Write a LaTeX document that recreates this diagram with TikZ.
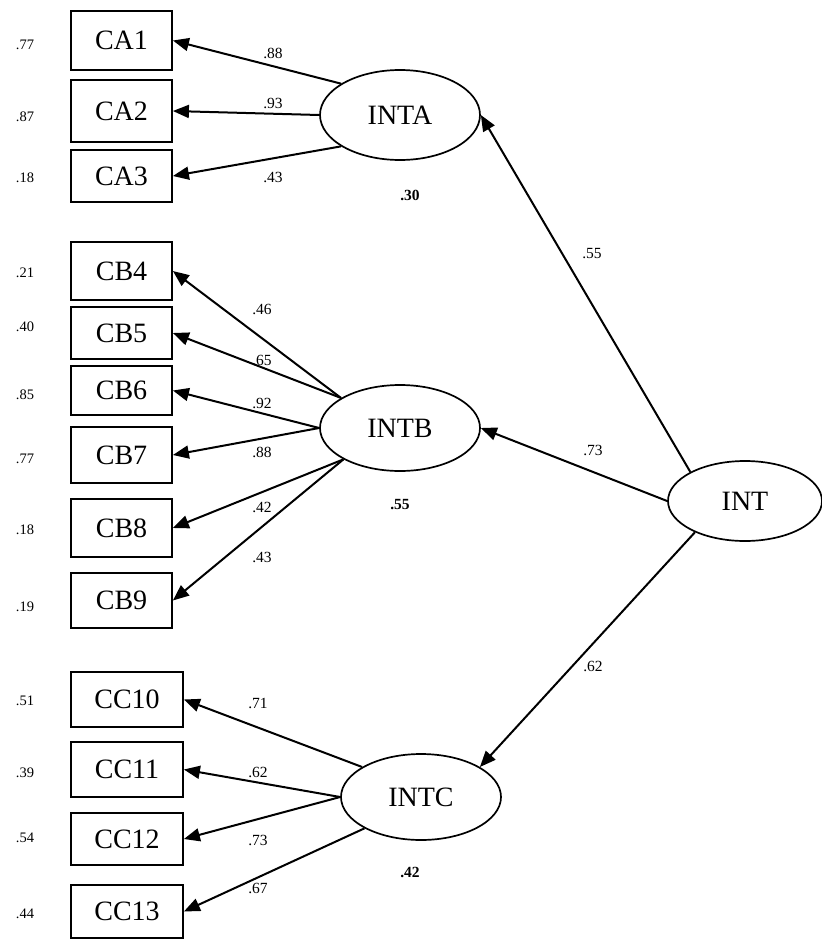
\documentclass[tikz,border=0pt]{standalone}
\usepackage{fontspec}
\setmainfont{Liberation Serif}
\usetikzlibrary{shapes.geometric,arrows.meta}

\begin{document}
\begin{tikzpicture}[x=1pt,y=-1pt,
  obsbox/.style={draw, line width=1.8pt, minimum width=101pt, inner sep=0pt,
                 font=\fontsize{28}{28}\selectfont},
  widebox/.style={obsbox, minimum width=112pt},
  latent/.style={draw, ellipse, line width=1.7pt, minimum width=160pt,
                 minimum height=86pt, inner sep=0pt, font=\fontsize{28}{28}\selectfont},
  link/.style={line width=2pt, -{Triangle[length=16pt,width=13pt]}},
  coef/.style={font=\fontsize{15.5}{16}\selectfont, inner sep=0pt},
  errv/.style={font=\fontsize{14.5}{15}\selectfont, inner sep=0pt},
  rsq/.style={font=\bfseries\fontsize{15.5}{16}\selectfont, inner sep=0pt}
]
\useasboundingbox (0,0) rectangle (822,940);

% observed indicators
\node[obsbox, minimum height=59pt] (CA1) at (121.5,40.5) {CA1};
\node[obsbox, minimum height=62pt] (CA2) at (121.5,111) {CA2};
\node[obsbox, minimum height=52pt] (CA3) at (121.5,176) {CA3};

\node[obsbox, minimum height=58pt] (CB4) at (121.5,271) {CB4};
\node[obsbox, minimum height=52pt] (CB5) at (121.5,333) {CB5};
\node[obsbox, minimum height=49pt] (CB6) at (121.5,390.5) {CB6};
\node[obsbox, minimum height=56pt] (CB7) at (121.5,455) {CB7};
\node[obsbox, minimum height=58pt] (CB8) at (121.5,528) {CB8};
\node[obsbox, minimum height=55pt] (CB9) at (121.5,600.5) {CB9};

\node[widebox, minimum height=55pt] (CC10) at (127,699.5) {CC10};
\node[widebox, minimum height=55pt] (CC11) at (127,769.5) {CC11};
\node[widebox, minimum height=52pt] (CC12) at (127,839) {CC12};
\node[widebox, minimum height=53pt] (CC13) at (127,911.5) {CC13};

% latent factors
\node[latent, minimum height=90pt] (INTA) at (400,115) {INTA};
\node[latent] (INTB) at (400,428) {INTB};
\node[latent] (INTC) at (421,797) {INTC};
\node[latent, minimum width=154pt, minimum height=80pt] (INT) at (745,501) {INT};

% error variances
\node[errv] (eCA1) at (25,45) {.77};
\node[errv] (eCA2) at (25,117) {.87};
\node[errv] (eCA3) at (25,178) {.18};
\node[errv] (eCB4) at (25,273) {.21};
\node[errv] (eCB5) at (25,327) {.40};
\node[errv] (eCB6) at (25,395) {.85};
\node[errv] (eCB7) at (25,459) {.77};
\node[errv] (eCB8) at (25,530) {.18};
\node[errv] (eCB9) at (25,607) {.19};
\node[errv] (eCC10) at (25,701) {.51};
\node[errv] (eCC11) at (25,773) {.39};
\node[errv] (eCC12) at (25,838) {.54};
\node[errv] (eCC13) at (25,914) {.44};

% loadings of INTA
\draw[link] (INTA.152) -- (CA1.east);
\draw[link] (INTA.west) -- (CA2.east);
\draw[link] (INTA.208) -- (CA3.east);
\node[coef] (lCA1) at (273,53) {.88};
\node[coef] (lCA2) at (273,103) {.93};
\node[coef] (lCA3) at (273,177) {.43};

% loadings of INTB
\draw[link] (INTB.153) -- (CB4.east);
\draw[link] (INTB.153) -- (CB5.east);
\draw[link] (INTB.west) -- (CB6.east);
\draw[link] (INTB.west) -- (CB7.east);
\draw[link] (INTB.209) -- (CB8.east);
\draw[link] (INTB.209) -- (CB9.east);
\node[coef] (lCB4) at (262,309) {.46};
\node[coef] (lCB5) at (262,360) {.65};
\node[coef] (lCB6) at (262,403) {.92};
\node[coef] (lCB7) at (262,452) {.88};
\node[coef] (lCB8) at (262,507) {.42};
\node[coef] (lCB9) at (262,557) {.43};

% loadings of INTC
\draw[link] (INTC.153) -- (CC10.east);
\draw[link] (INTC.west) -- (CC11.east);
\draw[link] (INTC.west) -- (CC12.east);
\draw[link] (INTC.209) -- (CC13.east);
\node[coef] (lCC10) at (258,703) {.71};
\node[coef] (lCC11) at (258,772) {.62};
\node[coef] (lCC12) at (258,840) {.73};
\node[coef] (lCC13) at (258,888) {.67};

% second-order paths
\draw[link] (INT.152) -- (INTA.east);
\draw[link] (INT.west) -- (INTB.east);
\draw[link] (INT.212) -- (INTC.27);
\node[coef] (lA) at (592,254) {.55};
\node[coef] (lB) at (593,450) {.73};
\node[coef] (lC) at (593,666) {.62};

% explained variances
\node[rsq] (rA) at (410,195) {.30};
\node[rsq] (rB) at (400,505) {.55};
\node[rsq] (rC) at (410,872) {.42};
\end{tikzpicture}
\end{document}
